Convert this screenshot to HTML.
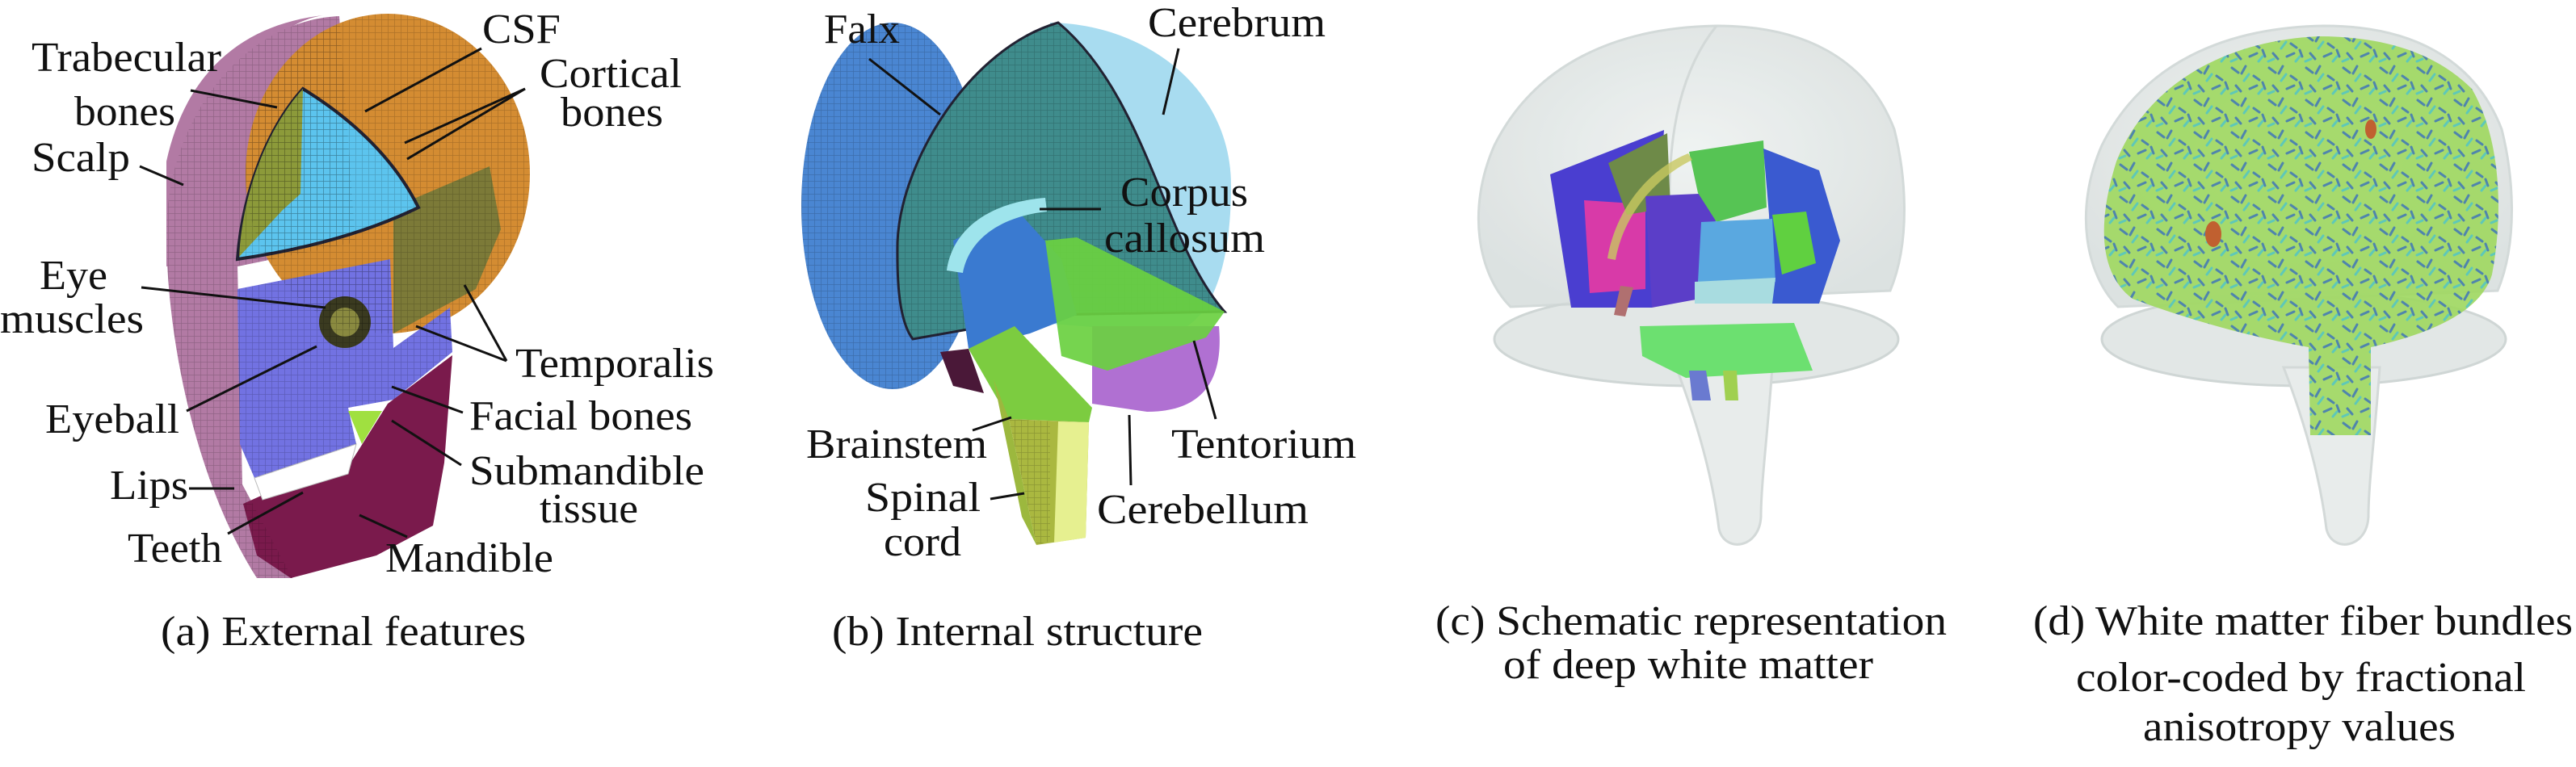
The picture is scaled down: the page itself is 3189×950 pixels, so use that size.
<!DOCTYPE html>
<html><head><meta charset="utf-8"><style>
html,body{margin:0;padding:0;background:#fff;}
svg{display:block}
svg text{font-family:'Liberation Serif','DejaVu Serif',serif;font-size:52px;fill:#111;}
</style></head><body>
<svg width="3189" height="950" viewBox="0 0 3189 950" xmlns="http://www.w3.org/2000/svg">
<defs>
<pattern id="mesh" width="8" height="8" patternUnits="userSpaceOnUse"><path d="M0 0H8M0 0V8" stroke="#000" stroke-opacity="0.18" stroke-width="1.5"/></pattern>
<pattern id="fib" width="46" height="40" patternUnits="userSpaceOnUse">
<path d="M3 4l8 6M20 2l-5 9M30 14l7 5M8 26l6 7M25 30l9-4M41 22l3 8" stroke="#2a60c8" stroke-width="3" stroke-linecap="round" opacity="0.7"/>
<path d="M18 20l6-8M2 36l7-3M36 36l5-6" stroke="#40c0d8" stroke-width="3" stroke-linecap="round" opacity="0.7"/>
</pattern>
<radialGradient id="gl" cx="50%" cy="45%" r="60%"><stop offset="0" stop-color="#eef2f1"/><stop offset="1" stop-color="#d9dfde"/></radialGradient>
</defs>

<!-- (a) head -->
<path d="M420,20 C300,25 205,150 206,290 C207,440 250,610 318,716 L362,716 L300,600 L294,330 L440,300 Z" fill="#b27aa4"/>
<ellipse cx="480" cy="215" rx="176" ry="198" fill="#d48c32"/>
<path d="M400,19 C330,30 280,110 290,190 L294,321 L206,330 L206,200 C230,90 300,30 400,19 Z" fill="#b27aa4"/>
<path d="M487,257 L606,206 L620,284 L589,358 L529,390 L487,413 Z" fill="#7c7a38"/>
<path d="M375,110 C440,150 490,200 518,257 C450,290 370,310 294,321 C300,240 330,160 375,110 Z" fill="#5cc4ee" stroke="#223" stroke-width="4"/>
<path d="M375,110 L372,240 L350,260 L296,318 C300,240 330,160 375,110 Z" fill="#8c9a3a"/>
<path d="M294,358 L483,321 L487,431 L557,381 L560,436 L487,495 L431,505 L441,550 L315,592 L297,550 Z" fill="#7272e2"/>
<path d="M480,500 L560,440 L550,573 L536,651 L466,688 L360,716 L318,688 L301,624 L332,610 L431,578 Z" fill="#7a1a4c"/>
<path d="M315,592 L441,550 L431,587 L325,619 Z" fill="#fff" stroke="#bbb" stroke-width="1"/>
<path d="M431,509 L473,509 L448,550 Z" fill="#a0e040"/>
<circle cx="427" cy="399" r="32" fill="#3a3a20"/><circle cx="427" cy="399" r="18" fill="#8a8a40"/>
<path d="M420,20 C300,25 205,150 206,290 C207,440 250,610 318,716 L362,716 L300,600 L294,330 L440,300 Z" fill="url(#mesh)"/>
<ellipse cx="480" cy="215" rx="176" ry="198" fill="url(#mesh)"/>
<path d="M294,358 L483,321 L487,431 L557,381 L560,436 L487,495 L431,505 L441,550 L315,592 L297,550 Z" fill="url(#mesh)"/>

<!-- (b) brain -->
<ellipse cx="1105" cy="255" rx="113" ry="227" fill="#4a86d2"/>
<ellipse cx="1105" cy="255" rx="113" ry="227" fill="url(#mesh)"/>
<path d="M1300,28 C1420,30 1524,110 1524,230 C1524,330 1500,400 1450,413 L1290,400 Z" fill="#a8dcf0"/>
<path d="M1310,28 C1200,60 1115,200 1111,300 C1110,360 1115,400 1130,420 L1300,390 L1516,386 C1440,300 1420,120 1310,28 Z" fill="#3f8c8c" stroke="#223" stroke-width="3"/>
<path d="M1310,28 C1200,60 1115,200 1111,300 C1110,360 1115,400 1130,420 L1300,390 L1516,386 C1440,300 1420,120 1310,28 Z" fill="url(#mesh)"/>
<path d="M1180,298 L1256,257 L1314,321 L1333,390 L1275,413 L1199,432 Z" fill="#3a7ad0"/>
<path d="M1172,335 C1180,280 1230,250 1294,245 L1296,262 C1240,268 1200,295 1192,338 Z" fill="#9ee4ec"/>
<path d="M1352,404 L1509,404 C1515,470 1490,510 1420,510 L1352,500 Z" fill="#b070d2"/>
<path d="M1294,298 L1333,294 L1516,386 L1493,418 L1371,459 L1314,441 Z" fill="#6ad040" opacity="0.92"/>
<path d="M1164,436 L1199,432 L1218,487 L1180,478 Z" fill="#4a1838"/>
<path d="M1199,432 L1256,404 L1352,505 L1348,523 L1249,519 Z" fill="#7ccc40"/>
<path d="M1230,470 L1249,519 L1283,675 L1265,640 Z" fill="#9cb83e"/>
<path d="M1249,519 L1348,523 L1344,666 L1283,675 Z" fill="#aab840"/>
<path d="M1310,522 L1348,523 L1344,666 L1305,672 Z" fill="#e6f090"/>
<path d="M1249,519 L1300,522 L1300,670 L1283,675 Z" fill="url(#mesh)"/>

<!-- (c) glass brain -->
<ellipse cx="2100" cy="420" rx="250" ry="58" fill="#e2e7e6" stroke="#cfd6d5" stroke-width="3"/>
<path d="M2075,455 L2194,455 C2188,540 2180,600 2180,640 C2178,680 2135,685 2128,655 C2120,590 2100,520 2075,455 Z" fill="#e8eceb" stroke="#d3d9d8" stroke-width="3"/>
<path d="M2125,32 C2000,34 1900,80 1850,180 C1815,260 1830,340 1870,380 L2340,360 C2365,300 2360,220 2345,160 C2310,70 2230,32 2125,32 Z" fill="url(#gl)" stroke="#cfd6d5" stroke-width="3" opacity="0.9"/>
<path d="M2125,32 C2070,100 2060,200 2070,330" stroke="#d3d9d8" stroke-width="3" fill="none"/>
<path d="M1919,216 L2060,161 L2045,381 L1945,381 Z" fill="#4a3ed0"/>
<path d="M1961,248 L2037,253 L2037,358 L1968,363 Z" fill="#d83aa8"/>
<path d="M1991,202 L2064,165 L2068,257 L2014,266 Z" fill="#6e8a48"/>
<path d="M2037,243 L2125,239 L2121,367 L2045,381 Z" fill="#5b3ec8"/>
<path d="M2091,188 L2183,174 L2187,257 L2125,275 L2102,239 Z" fill="#56c454"/>
<path d="M2183,184 L2252,211 L2278,298 L2252,376 L2194,376 L2190,266 Z" fill="#3a5ad0"/>
<path d="M2194,266 L2236,262 L2248,326 L2206,340 Z" fill="#60d040"/>
<path d="M2106,275 L2194,271 L2198,349 L2102,349 Z" fill="#5aa8e0"/>
<path d="M2098,349 L2198,344 L2194,376 L2098,376 Z" fill="#a8dce0"/>
<path d="M2030,404 L2221,400 L2244,459 L2087,468 L2033,441 Z" fill="#6ce070"/>
<path d="M2091,459 L2112,459 L2118,496 L2095,496 Z" fill="#6a7ad0"/>
<path d="M2133,459 L2150,459 L2152,496 L2136,496 Z" fill="#a0d050"/>
<path d="M2006,354 L2022,356 L2012,392 L1998,390 Z" fill="#b07070"/>
<path d="M1990,320 C2000,260 2040,210 2090,190 L2095,198 C2050,220 2010,265 2000,322 Z" fill="#c8c860" opacity="0.8"/>

<!-- (d) fiber brain -->
<ellipse cx="2852" cy="420" rx="250" ry="58" fill="#e2e7e6" stroke="#cfd6d5" stroke-width="3"/>
<path d="M2827,455 L2946,455 C2940,540 2932,600 2932,640 C2930,680 2887,685 2880,655 C2872,590 2852,520 2827,455 Z" fill="#e8eceb" stroke="#d3d9d8" stroke-width="3"/>
<path d="M2877,32 C2752,34 2652,80 2602,180 C2567,260 2582,340 2622,380 L3092,360 C3117,300 3112,220 3097,160 C3062,70 2982,32 2877,32 Z" fill="url(#gl)" stroke="#cfd6d5" stroke-width="3" opacity="0.9"/>
<path d="M2870,45 C2760,50 2660,100 2620,200 C2595,280 2600,340 2640,370 C2720,400 2800,420 2858,430 L2860,539 L2935,539 L2935,430 C3000,415 3070,390 3085,340 C3100,260 3095,170 3060,110 C3010,60 2940,45 2870,45 Z" fill="#a0d862" opacity="0.92"/>
<path d="M2870,45 C2760,50 2660,100 2620,200 C2595,280 2600,340 2640,370 C2720,400 2800,420 2858,430 L2860,539 L2935,539 L2935,430 C3000,415 3070,390 3085,340 C3100,260 3095,170 3060,110 C3010,60 2940,45 2870,45 Z" fill="url(#fib)"/>
<ellipse cx="2740" cy="290" rx="10" ry="16" fill="#c06030"/>
<ellipse cx="2935" cy="160" rx="7" ry="12" fill="#c06030"/>

<!-- leader lines -->
<g stroke="#111" stroke-width="3" fill="none">
<path d="M236,112 L343,133"/><path d="M173,206 L227,229"/><path d="M596,60 L452,138"/>
<path d="M650,110 L501,177"/><path d="M650,110 L504,197"/>
<path d="M175,356 L403,381"/><path d="M627,447 L515,404"/><path d="M627,447 L575,353"/>
<path d="M231,509 L392,429"/><path d="M573,511 L485,479"/><path d="M571,576 L485,521"/>
<path d="M234,605 L290,605"/><path d="M282,661 L375,610"/><path d="M504,665 L445,638"/>
<path d="M1076,73 L1164,142"/><path d="M1459,60 L1440,142"/><path d="M1363,259 L1287,259"/>
<path d="M1204,533 L1252,517"/><path d="M1226,618 L1268,611"/><path d="M1400,601 L1398,514"/><path d="M1505,519 L1478,422"/>
</g>

<!-- labels -->
<g>
<text x="39" y="88" textLength="235" lengthAdjust="spacingAndGlyphs">Trabecular</text>
<text x="92" y="155" textLength="125" lengthAdjust="spacingAndGlyphs">bones</text>
<text x="39" y="212" textLength="122" lengthAdjust="spacingAndGlyphs">Scalp</text>
<text x="597" y="53" textLength="97" lengthAdjust="spacingAndGlyphs">CSF</text>
<text x="668" y="108" textLength="176" lengthAdjust="spacingAndGlyphs">Cortical</text>
<text x="694" y="156" textLength="127" lengthAdjust="spacingAndGlyphs">bones</text>
<text x="49" y="358" textLength="84" lengthAdjust="spacingAndGlyphs">Eye</text>
<text x="0" y="412" textLength="178" lengthAdjust="spacingAndGlyphs">muscles</text>
<text x="638" y="467" textLength="246" lengthAdjust="spacingAndGlyphs">Temporalis</text>
<text x="56" y="536" textLength="166" lengthAdjust="spacingAndGlyphs">Eyeball</text>
<text x="581" y="532" textLength="276" lengthAdjust="spacingAndGlyphs">Facial bones</text>
<text x="136" y="618" textLength="97" lengthAdjust="spacingAndGlyphs">Lips</text>
<text x="581" y="600" textLength="291" lengthAdjust="spacingAndGlyphs">Submandible</text>
<text x="668" y="647" textLength="122" lengthAdjust="spacingAndGlyphs">tissue</text>
<text x="158" y="696" textLength="117" lengthAdjust="spacingAndGlyphs">Teeth</text>
<text x="477" y="708" textLength="208" lengthAdjust="spacingAndGlyphs">Mandible</text>
<text x="1020" y="53" textLength="94" lengthAdjust="spacingAndGlyphs">Falx</text>
<text x="1421" y="45" textLength="220" lengthAdjust="spacingAndGlyphs">Cerebrum</text>
<text x="1387" y="255" textLength="158" lengthAdjust="spacingAndGlyphs">Corpus</text>
<text x="1367" y="312" textLength="199" lengthAdjust="spacingAndGlyphs">callosum</text>
<text x="998" y="567" textLength="224" lengthAdjust="spacingAndGlyphs">Brainstem</text>
<text x="1450" y="567" textLength="229" lengthAdjust="spacingAndGlyphs">Tentorium</text>
<text x="1071" y="633" textLength="143" lengthAdjust="spacingAndGlyphs">Spinal</text>
<text x="1094" y="688" textLength="96" lengthAdjust="spacingAndGlyphs">cord</text>
<text x="1358" y="648" textLength="262" lengthAdjust="spacingAndGlyphs">Cerebellum</text>

<text x="199" y="799" textLength="452" lengthAdjust="spacingAndGlyphs">(a) External features</text>
<text x="1030" y="799" textLength="459" lengthAdjust="spacingAndGlyphs">(b) Internal structure</text>
<text x="1777" y="786" textLength="633" lengthAdjust="spacingAndGlyphs">(c) Schematic representation</text>
<text x="1861" y="840" textLength="458" lengthAdjust="spacingAndGlyphs">of deep white matter</text>
<text x="2517" y="786" textLength="668" lengthAdjust="spacingAndGlyphs">(d) White matter fiber bundles</text>
<text x="2570" y="856" textLength="557" lengthAdjust="spacingAndGlyphs">color-coded by fractional</text>
<text x="2653" y="917" textLength="387" lengthAdjust="spacingAndGlyphs">anisotropy values</text>
</g>
</svg>
</body></html>
